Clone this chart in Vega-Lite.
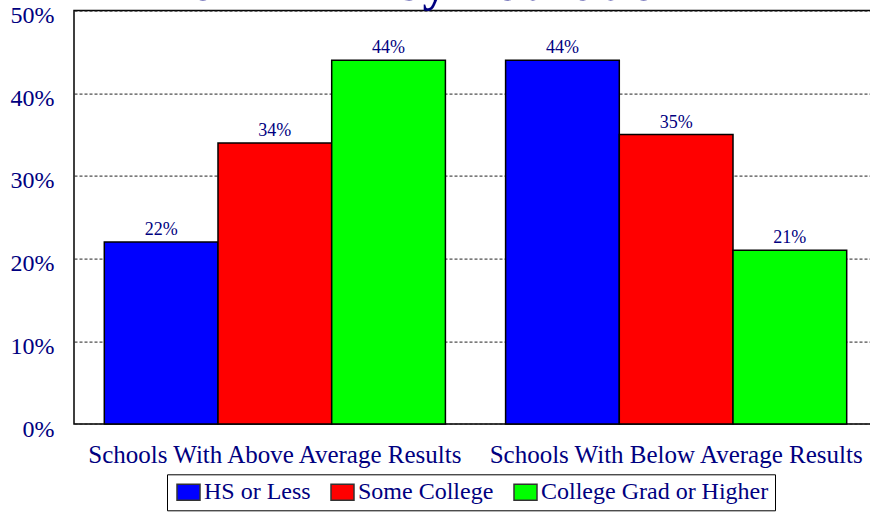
{
  "$schema": "https://vega.github.io/schema/vega-lite/v6.json",
  "autosize": {"type": "none"},
  "padding": {"left": 74, "top": 10.6, "right": 0, "bottom": 90},
  "width": 803,
  "height": 413.4,
  "background": "white",
  "title": {
    "text": "of NAEP by Education",
    "font": "Liberation Serif",
    "fontSize": 51,
    "fontWeight": "bold",
    "color": "#000080",
    "anchor": "middle",
    "dx": -38,
    "offset": -7
  },
  "config": {
    "font": "Liberation Serif",
    "view": {"stroke": "#000000", "strokeWidth": 1.5},
    "legend": {
      "strokeColor": "#000000",
      "padding": 6,
      "fillColor": "white"
    }
  },
  "data": {
    "values": [
      {"group": "Schools With Above Average Results", "edu": "HS or Less", "value": 0.22},
      {"group": "Schools With Above Average Results", "edu": "Some College", "value": 0.34},
      {"group": "Schools With Above Average Results", "edu": "College Grad or Higher", "value": 0.44},
      {"group": "Schools With Below Average Results", "edu": "HS or Less", "value": 0.44},
      {"group": "Schools With Below Average Results", "edu": "Some College", "value": 0.35},
      {"group": "Schools With Below Average Results", "edu": "College Grad or Higher", "value": 0.21}
    ]
  },
  "encoding": {
    "x": {
      "field": "group",
      "type": "nominal",
      "sort": null,
      "scale": {"paddingInner": 0.15, "paddingOuter": 0.0755},
      "axis": {
        "title": null,
        "labelAngle": 0,
        "ticks": false,
        "domain": false,
        "grid": false,
        "labelFont": "Liberation Serif",
        "labelFontSize": 25,
        "labelColor": "#000080",
        "labelPadding": 38,
        "labelBaseline": "alphabetic",
        "labelLimit": 500
      }
    },
    "xOffset": {
      "field": "edu",
      "type": "nominal",
      "sort": ["HS or Less", "Some College", "College Grad or Higher"],
      "scale": {"paddingInner": 0, "paddingOuter": 0}
    },
    "y": {
      "field": "value",
      "type": "quantitative",
      "scale": {"domain": [0, 0.5], "nice": false},
      "axis": {
        "title": null,
        "format": ".0%",
        "values": [0, 0.1, 0.2, 0.3, 0.4, 0.5],
        "ticks": false,
        "domain": false,
        "labelFont": "Liberation Serif",
        "labelFontSize": 24,
        "labelColor": "#000080",
        "labelPadding": 20,
        "labelBaseline": "alphabetic",
        "labelOffset": 12,
        "labelFlush": false,
        "grid": true,
        "gridDash": [3, 2],
        "gridColor": "#222222",
        "gridWidth": 1
      }
    }
  },
  "layer": [
    {
      "mark": {"type": "bar", "stroke": "#000000", "strokeWidth": 1.5},
      "encoding": {
        "color": {
          "field": "edu",
          "type": "nominal",
          "sort": ["HS or Less", "Some College", "College Grad or Higher"],
          "scale": {
            "domain": ["HS or Less", "Some College", "College Grad or Higher"],
            "range": ["#0000FF", "#FF0000", "#00FF00"]
          },
          "legend": {
            "title": null,
            "orient": "none",
            "legendX": 93,
            "legendY": 463.7,
            "direction": "horizontal",
            "symbolType": "M-1,-1H1.875V1H-1Z",
            "symbolSize": 256,
            "symbolStrokeColor": "#333333",
            "symbolStrokeWidth": 1.5,
            "symbolOpacity": 1,
            "labelFont": "Liberation Serif",
            "labelFontSize": 24,
            "labelColor": "#000080",
            "labelOffset": 7,
            "labelLimit": 400,
            "columnPadding": 16
          }
        }
      }
    },
    {
      "mark": {
        "type": "text",
        "baseline": "alphabetic",
        "dy": -7,
        "fontSize": 18,
        "font": "Liberation Serif",
        "color": "#000080"
      },
      "encoding": {
        "text": {"field": "value", "type": "quantitative", "format": ".0%"}
      }
    }
  ]
}
